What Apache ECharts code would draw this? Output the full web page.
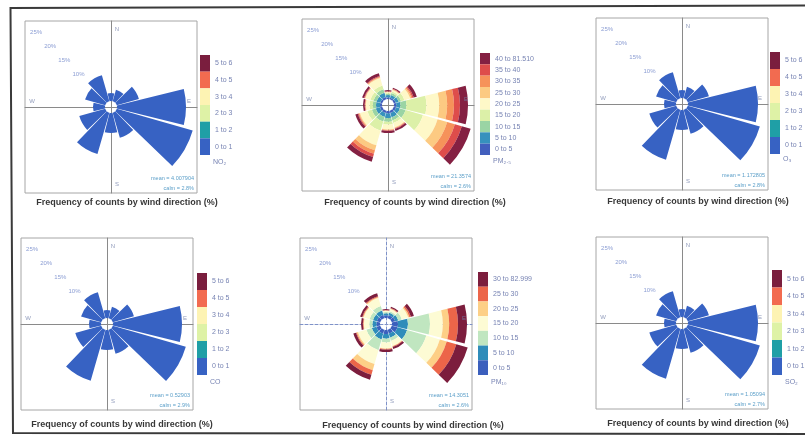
<!DOCTYPE html>
<html><head><meta charset="utf-8">
<script src="https://cdn.jsdelivr.net/npm/echarts@6/dist/echarts.min.js"></script>
<style>html,body{margin:0;padding:0;background:#fff}#c{width:805px;height:440px}</style>
</head><body><div id="c"></div>
<script>
// ---------- data ----------
const directions = ['N','NNE','ENE','E','ESE','SSE','S','SSW','WSW','W','WNW','NNW'];
const pctTicks = [10, 15, 20, 25];
const pctTickLabels = ['10%', '15%', '20%', '25%'];
const compassLabels = ['N', 'E', 'S', 'W'];

// gaseous pollutants: all counts fall in the lowest bin
const gasBinLabels = ['0 to 1', '1 to 2', '2 to 3', '3 to 4', '4 to 5', '5 to 6'];
const no2Freq0to1 = [2.0, 3.0, 5.75, 17.25, 19.75, 6.5, 5.0, 10.75, 6.75, 3.0, 5.25, 6.75];
const o3Freq0to1  = [2.0, 3.0, 5.5, 17.5, 18.75, 6.25, 5.0, 13.0, 7.0, 3.0, 5.25, 6.75];
const coFreq0to1  = [2.0, 3.0, 5.5, 17.25, 19.0, 6.25, 5.0, 13.25, 6.75, 3.0, 5.25, 6.75];
const so2Freq0to1 = [2.0, 3.0, 5.5, 17.5, 18.75, 6.25, 5.0, 13.0, 7.0, 3.0, 5.25, 6.75];
const gasFreqEmpty = [0, 0, 0, 0, 0, 0, 0, 0, 0, 0, 0, 0];

// PM2.5
const pm25BinLabels = ['0 to 5', '5 to 10', '10 to 15', '15 to 20', '20 to 25', '25 to 30', '30 to 35', '35 to 40', '40 to 81.510'];
const pm25Bin0 = [0.4, 0.4, 0.5, 0.6, 0.6, 0.6, 0.6, 0.6, 0.6, 0.5, 0.5, 0.6];
const pm25Bin1 = [0.6, 0.7, 0.8, 1.0, 1.0, 1.1, 1.2, 1.0, 1.1, 1.0, 1.0, 1.1];
const pm25Bin2 = [0.3, 0.5, 0.6, 1.5, 1.5, 0.8, 0.9, 1.2, 1.0, 0.8, 0.8, 0.9];
const pm25Bin3 = [0.2, 0.4, 0.9, 5.0, 4.5, 0.7, 0.7, 2.4, 1.2, 0.8, 0.8, 1.0];
const pm25Bin4 = [0.25, 0.4, 1.5, 3.2, 3.8, 1.15, 1.2, 3.8, 1.9, 0.95, 1.3, 1.9];
const pm25Bin5 = [0.05, 0.1, 0.3, 2.0, 2.5, 0.15, 0.15, 1.3, 0.2, 0.1, 0.1, 0.2];
const pm25Bin6 = [0.05, 0.1, 0.3, 1.7, 2.0, 0.1, 0.1, 0.9, 0.15, 0.1, 0.1, 0.15];
const pm25Bin7 = [0.1, 0.1, 0.3, 1.5, 1.8, 0.15, 0.15, 0.8, 0.2, 0.1, 0.15, 0.2];
const pm25Bin8 = [0.3, 0.3, 0.8, 2.0, 2.55, 0.5, 0.5, 1.25, 0.65, 0.4, 0.5, 0.7];

// PM10
const pm10BinLabels = ['0 to 5', '5 to 10', '10 to 15', '15 to 20', '20 to 25', '25 to 30', '30 to 82.999'];
const pm10Bin0 = [0.7, 0.8, 0.9, 1.5, 1.5, 1.0, 1.0, 1.0, 1.0, 0.9, 0.9, 0.9];
const pm10Bin1 = [0.5, 0.6, 0.8, 2.5, 2.5, 1.1, 1.2, 1.5, 1.2, 1.0, 1.0, 1.1];
const pm10Bin2 = [0.3, 0.4, 0.9, 5.5, 5.0, 0.8, 0.9, 2.8, 1.4, 0.8, 0.9, 1.2];
const pm10Bin3 = [0.35, 0.6, 1.7, 3.2, 3.5, 1.3, 1.5, 3.6, 2.2, 1.35, 1.55, 2.1];
const pm10Bin4 = [0.05, 0.1, 0.3, 1.6, 1.8, 0.15, 0.15, 1.6, 0.3, 0.1, 0.15, 0.2];
const pm10Bin5 = [0.1, 0.15, 0.4, 2.2, 2.5, 0.15, 0.2, 1.2, 0.2, 0.15, 0.2, 0.25];
const pm10Bin6 = [0.25, 0.35, 0.75, 2.25, 2.95, 0.5, 0.55, 1.3, 0.7, 0.45, 0.55, 0.75];

const panelTitle = 'Frequency of counts by wind direction (%)';
const footerLabels = ['NO₂', 'PM₂.₅', 'O₃', 'CO', 'PM₁₀', 'SO₂'];
const meanLabels = ['mean = 4.007904', 'mean = 21.3574', 'mean = 1.172805', 'mean = 0.52903', 'mean = 14.3051', 'mean = 1.05094'];
const calmLabels = ['calm = 2.8%', 'calm = 2.6%', 'calm = 2.8%', 'calm = 2.9%', 'calm = 2.6%', 'calm = 2.7%'];

// ---------- styling ----------
const gasColors  = ['#3762c3', '#1f9fa6', '#def2a6', '#fdf3b3', '#f26b50', '#7a1e3e'];
const pm25Colors = ['#425fbd', '#3691bd', '#9ad4a4', '#dcf0a8', '#fef8c8', '#fcca82', '#f6925a', '#de4d4b', '#842042'];
const pm10Colors = ['#3b5fbd', '#2e8cba', '#c0e6c0', '#fdfbd4', '#fdcf86', '#ec6549', '#7c1d3d'];

const FONT = 'Liberation Sans, Arial, sans-serif';
const HALF = 86, HOLE = 6, PX_PER_PCT = 4;
const RMAX = (HALF - HOLE) / PX_PER_PCT;
const AXMAX = HALF / PX_PER_PCT;
const HOLE_U = HOLE / PX_PER_PCT;

const panels = [
  {cx:111, cy:107, legX:200, legY:55, legH:100, footY:163, titleX:127, titleY:203,
   bins:gasBinLabels, colors:gasColors, values:[no2Freq0to1, gasFreqEmpty, gasFreqEmpty, gasFreqEmpty, gasFreqEmpty, gasFreqEmpty]},
  {cx:388, cy:105, legX:480, legY:53, legH:102, footY:162, titleX:415, titleY:203,
   bins:pm25BinLabels, colors:pm25Colors, values:[pm25Bin0, pm25Bin1, pm25Bin2, pm25Bin3, pm25Bin4, pm25Bin5, pm25Bin6, pm25Bin7, pm25Bin8]},
  {cx:682, cy:104, legX:770, legY:52, legH:102, footY:160, titleX:698, titleY:202,
   bins:gasBinLabels, colors:gasColors, values:[o3Freq0to1, gasFreqEmpty, gasFreqEmpty, gasFreqEmpty, gasFreqEmpty, gasFreqEmpty]},
  {cx:107, cy:324, legX:197, legY:273, legH:102, footY:383, titleX:122, titleY:425,
   bins:gasBinLabels, colors:gasColors, values:[coFreq0to1, gasFreqEmpty, gasFreqEmpty, gasFreqEmpty, gasFreqEmpty, gasFreqEmpty]},
  {cx:386, cy:324, legX:478, legY:272, legH:103, footY:383, titleX:413, titleY:426, dashed:true,
   bins:pm10BinLabels, colors:pm10Colors, values:[pm10Bin0, pm10Bin1, pm10Bin2, pm10Bin3, pm10Bin4, pm10Bin5, pm10Bin6]},
  {cx:682, cy:323, legX:772, legY:270, legH:105, footY:383, titleX:698, titleY:424,
   bins:gasBinLabels, colors:gasColors, values:[so2Freq0to1, gasFreqEmpty, gasFreqEmpty, gasFreqEmpty, gasFreqEmpty, gasFreqEmpty]}
];

const option = {
  animation: false,
  polar: [], angleAxis: [], radiusAxis: [], grid: [], xAxis: [], yAxis: [],
  legend: [], series: [], graphic: []
};

const compassPos = {N:[0, AXMAX], E:[AXMAX, 0], S:[0, -AXMAX], W:[-AXMAX, 0]};
const compassOffset = {N:[6, 8], E:[-8, -6], S:[6, -9], W:[7, -6]};

panels.forEach((p, i) => {
  option.polar.push({center:[p.cx, p.cy], radius:[HOLE, HALF]});
  option.angleAxis.push({polarIndex:i, type:'category', data:directions, startAngle:105, clockwise:true, show:false});
  option.radiusAxis.push({polarIndex:i, type:'value', min:0, max:RMAX, show:false});
  option.grid.push({left:p.cx - HALF, top:p.cy - HALF, width:2 * HALF, height:2 * HALF,
    show:true, borderColor:'#a6a6a6', borderWidth:1, backgroundColor:'transparent'});
  const axisLine = {onZero:true, lineStyle: p.dashed ? {color:'#7f92c8', width:1, type:[3, 2]} : {color:'#8a8a8a', width:1}};
  const axisCommon = {gridIndex:i, type:'value', min:-AXMAX, max:AXMAX, axisLine,
    axisTick:{show:false}, axisLabel:{show:false}, splitLine:{show:false}};
  option.xAxis.push(Object.assign({}, axisCommon));
  option.yAxis.push(Object.assign({}, axisCommon));

  p.bins.forEach((name, b) => {
    option.series.push({type:'bar', name, coordinateSystem:'polar', polarIndex:i, stack:'rose' + i,
      data:p.values[b], barCategoryGap:'7%', itemStyle:{color:p.colors[b]}, silent:true});
  });

  // percentage labels along the NW diagonal
  option.series.push({type:'scatter', xAxisIndex:i, yAxisIndex:i, symbolSize:0, silent:true, z:6,
    data: pctTicks.map((v, k) => ({name:pctTickLabels[k],
      value:[-(HOLE_U + v) * Math.SQRT1_2, (HOLE_U + v) * Math.SQRT1_2]})),
    label:{show:true, position:'inside', formatter:'{b}', fontSize:6, color:'#6e84c8', fontFamily:FONT}});
  // compass labels
  option.series.push({type:'scatter', xAxisIndex:i, yAxisIndex:i, symbolSize:0, silent:true, z:6,
    data: compassLabels.map(c => ({name:c, value:compassPos[c],
      label:{offset:compassOffset[c]}})),
    label:{show:true, position:'inside', formatter:'{b}', fontSize:6, color:'#7482aa', fontFamily:FONT}});

  const legItemH = p.legH / p.bins.length;
  option.legend.push({left:p.legX, top:p.legY, orient:'vertical', itemWidth:10, itemHeight:legItemH,
    itemGap:0, padding:0, icon:'rect', selectedMode:false,
    textStyle:{fontSize:7, color:'#7783b3', fontFamily:FONT},
    data: p.bins.map((name, b) => ({name, itemStyle:{color:p.colors[b]}})).reverse()});

  option.graphic.push(
    {type:'text', left:p.legX + 13, top:p.footY - 4, silent:true,
     style:{text:footerLabels[i], fontSize:7, fill:'#7783b3', fontFamily:FONT}},
    {type:'text', x:p.cx + HALF - 3, y:p.cy + HALF - 15, silent:true,
     style:{text:meanLabels[i], fontSize:5.5, fill:'#5a9ec8', fontFamily:FONT, align:'right', verticalAlign:'middle'}},
    {type:'text', x:p.cx + HALF - 3, y:p.cy + HALF - 5, silent:true,
     style:{text:calmLabels[i], fontSize:5.5, fill:'#5a9ec8', fontFamily:FONT, align:'right', verticalAlign:'middle'}},
    {type:'text', x:p.titleX, y:p.titleY, silent:true,
     style:{text:panelTitle, fontSize:9, fontWeight:'bold', fill:'#383838', fontFamily:FONT, align:'center', verticalAlign:'middle'}}
  );
});

// outer frame of the figure
option.graphic.push({type:'polyline', silent:true, z:10,
  shape:{points:[[805, 5.5], [10.5, 8], [13, 433], [805, 434]]},
  style:{stroke:'#3a3a3a', lineWidth:2, fill:null}});

const chart = echarts.init(document.getElementById('c'), null, {renderer:'canvas'});
chart.setOption(option);
</script>
</body></html>
